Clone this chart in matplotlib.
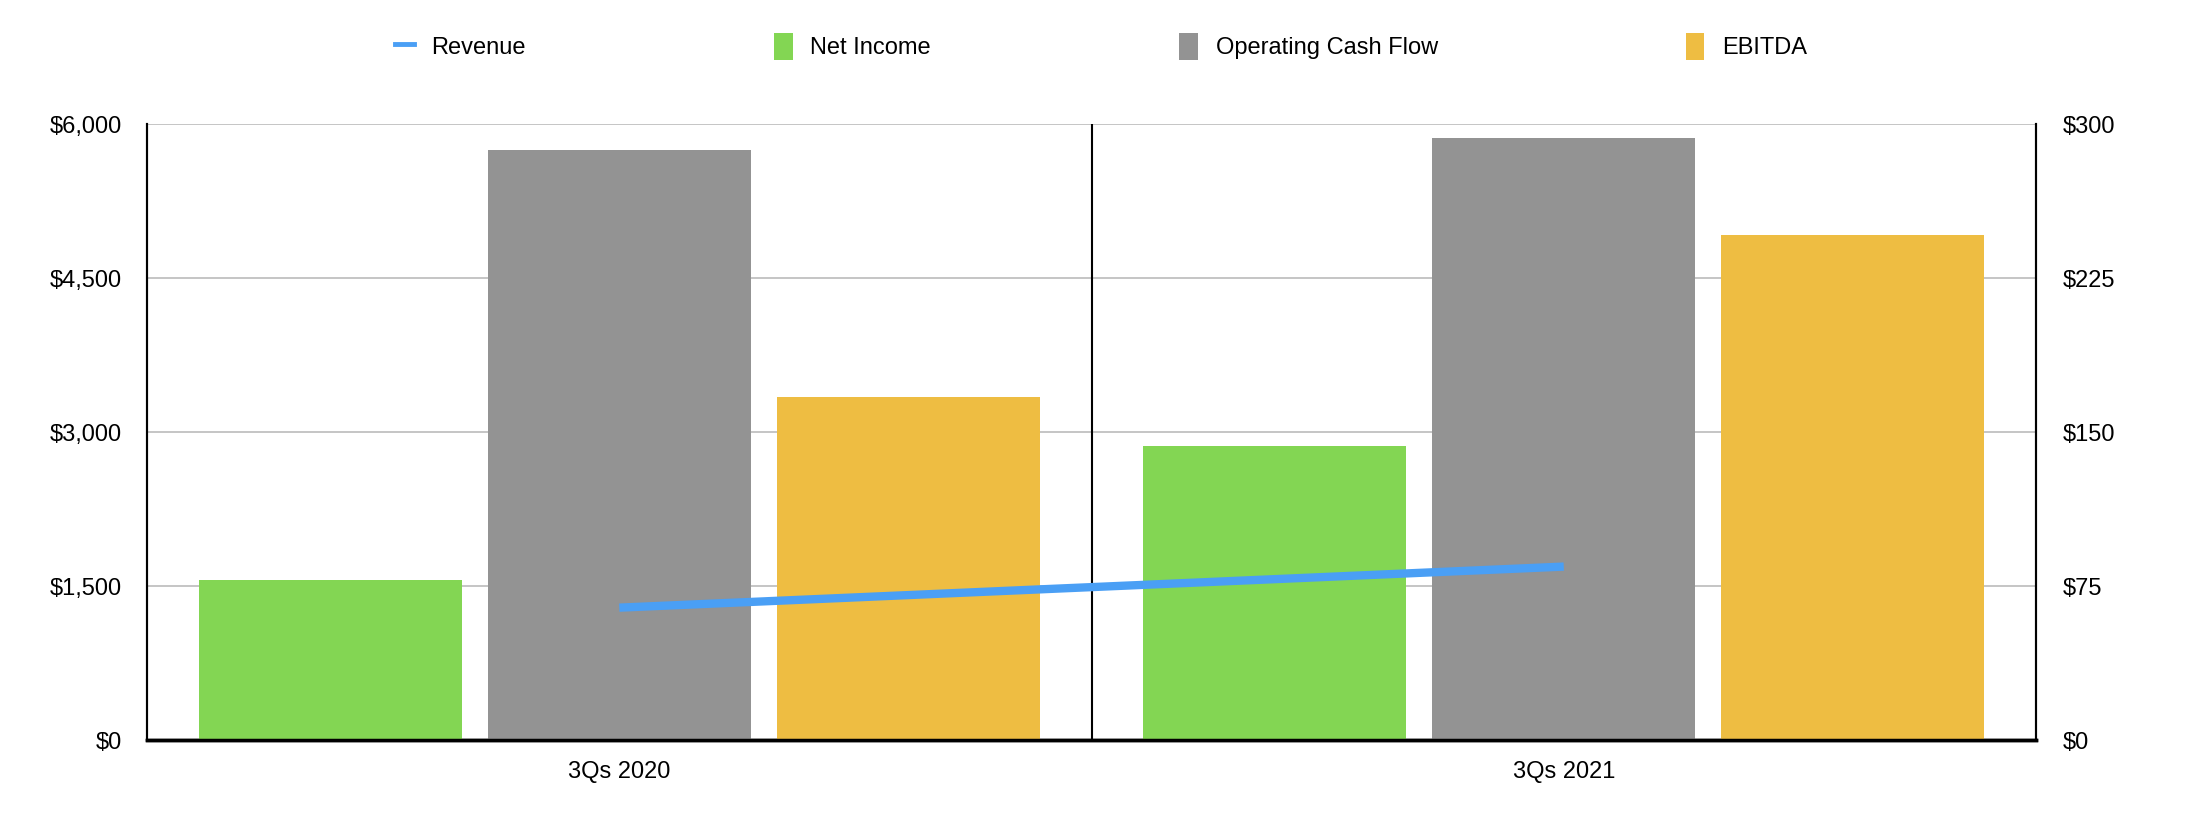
import numpy as np
import matplotlib.pyplot as plt
from matplotlib.lines import Line2D
from matplotlib.patches import Patch
from matplotlib.ticker import FuncFormatter

plt.rcParams['font.family'] = ['Liberation Sans', 'DejaVu Sans']

# Данные
categories = ['3Qs 2020', '3Qs 2021']
revenue = [64.5, 84.5]
net_income = [1560, 2860]
operating_cash_flow = [5745, 5865]
ebitda = [3340, 4920]

c_green = '#83D653'
c_grey = '#939393'
c_yellow = '#EEBD42'
c_blue = '#4A9FF5'

fig = plt.figure(figsize=(22.02, 8.16), dpi=100)
ax = fig.add_axes([0.0668, 0.093, 0.8578, 0.755])
ax2 = ax.twinx()

x = np.arange(len(categories))
w = 0.278
step = w + 0.028
ax.bar(x - step, net_income, w, color=c_green, zorder=3)
ax.bar(x, operating_cash_flow, w, color=c_grey, zorder=3)
ax.bar(x + step, ebitda, w, color=c_yellow, zorder=3)

ax2.plot(x, revenue, color=c_blue, lw=6, solid_capstyle='butt', zorder=5)

ax.set_xlim(-0.5, 1.5)
ax.set_ylim(0, 6000)
ax2.set_ylim(0, 300)
ax.set_yticks([0, 1500, 3000, 4500, 6000])
ax2.set_yticks([0, 75, 150, 225, 300])
ax.yaxis.set_major_formatter(FuncFormatter(lambda v, p: '${:,.0f}'.format(v)))
ax2.yaxis.set_major_formatter(FuncFormatter(lambda v, p: '${:,.0f}'.format(v)))
ax.set_xticks(x)
ax.set_xticklabels(categories)

# сетка и разделитель
ax.grid(axis='y', color='#BBBBBB', lw=1.2, zorder=0)
ax.axvline(0.5, color='black', lw=1.5, zorder=4)

for a in (ax, ax2):
    a.spines['top'].set_visible(False)
    a.spines['left'].set_linewidth(1.5)
    a.spines['right'].set_linewidth(1.5)
    a.spines['bottom'].set_linewidth(2.5)
    a.tick_params(length=0, labelsize=17)
ax.tick_params(axis='y', pad=18)
ax2.tick_params(axis='y', pad=19)
ax.tick_params(axis='x', pad=15)

# Легенда
handles = [
    Line2D([0], [0], color=c_blue, lw=3.5),
    Patch(facecolor=c_green),
    Patch(facecolor=c_grey),
    Patch(facecolor=c_yellow),
]
labels = ['Revenue', 'Net Income', 'Operating Cash Flow', 'EBITDA']
fig.legend(handles, labels, loc='center', bbox_to_anchor=(0.5, 0.943), ncol=4,
           frameon=False, fontsize=17, handlelength=0.8, handleheight=1.35,
           handletextpad=0.75, columnspacing=10.5)

fig.savefig('out.png', dpi=100)
